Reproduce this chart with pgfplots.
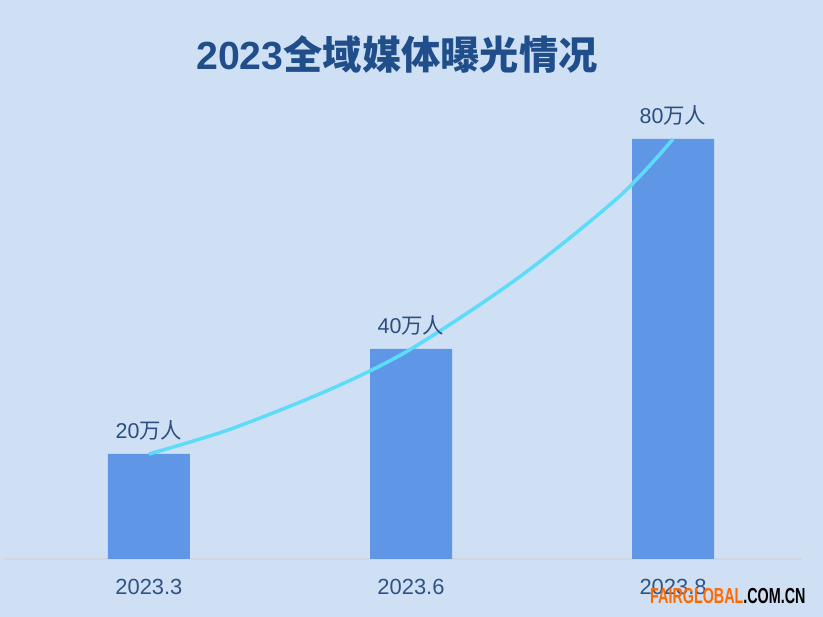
\documentclass[border=0pt]{standalone}
\usepackage{pgfplots}
\pgfplotsset{compat=1.18}
\usepackage{fontspec}
\setmainfont{Liberation Sans}
\newfontfamily\cjk{Noto Sans CJK SC}
\definecolor{bgc}{HTML}{CFE0F4}
\definecolor{barc}{HTML}{5F97E6}
\definecolor{linec}{HTML}{5CDCF8}
\definecolor{titlec}{HTML}{1F4E8A}
\definecolor{labc}{HTML}{2C4E7E}
\definecolor{tickc}{HTML}{2F5383}
\definecolor{axisc}{HTML}{D2D6DE}
\definecolor{wmo}{HTML}{FF6A00}
\begin{document}
\begin{tikzpicture}[x=1bp,y=1bp]
\fill[bgc] (0,0) rectangle (823,617);
\node[anchor=base west, inner sep=0, text=titlec, font=\fontsize{39.4}{41}\selectfont\bfseries] at (196,547.5) {2023{\cjk 全域媒体曝光情况}};
\begin{axis}[
  at={(4bp,58bp)}, anchor=south west,
  scale only axis, width=798bp, height=472.5bp,
  xmin=-0.553, xmax=2.492, ymin=0, ymax=90,
  axis x line=bottom, axis y line=none,
  x axis line style={-, draw=axisc, line width=1.2bp},
  xtick={0,1,2}, xticklabels={2023.3,2023.6,2023.8},
  major tick length=0pt,
  xticklabel style={font=\fontsize{22}{24}\selectfont, text=tickc, yshift=-17bp},
  ytick=\empty,
  clip=false,
  /pgf/number format/assume math mode=true,
]
\addplot[ybar, bar width=82bp, fill=barc, draw=none,
  nodes near coords={\pgfmathprintnumber{\pgfplotspointmeta}{\cjk 万人}},
  nodes near coords style={font=\fontsize{21.5}{23}\selectfont, text=labc, anchor=south, yshift=10bp}]
  coordinates {(0,20) (1,40) (2,80)};
\addplot[smooth, draw=linec, line width=3.5bp, no markers]
  coordinates {(0,20) (0.309,24.7) (0.691,32.3) (1,40) (1.416,53.8) (1.798,69.2) (2,80)};
\end{axis}
\node[anchor=base west, inner sep=0] at (650,13.7) {\scalebox{0.66}[1]{\fontsize{21.8}{22}\selectfont\bfseries\textcolor{wmo}{FAIRGLOBAL}.COM.CN}};
\end{tikzpicture}
\end{document}
